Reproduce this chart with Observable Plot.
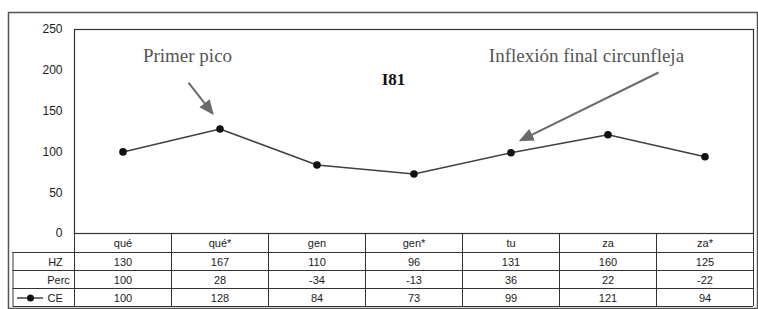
<!DOCTYPE html>
<html>
<head>
<meta charset="utf-8">
<script src="https://cdn.jsdelivr.net/npm/d3@7"></script>
<script src="https://cdn.jsdelivr.net/npm/@observablehq/plot@0.6"></script>
<style>
  html, body { margin: 0; padding: 0; background: white; }
</style>
</head>
<body>
<div id="chart"></div>
<script>
// ---- data ----
const categories = ["qué", "qué*", "gen", "gen*", "tu", "za", "za*"];
const hzValues = [130, 167, 110, 96, 131, 160, 125];
const percValues = [100, 28, -34, -13, 36, 22, -22];
const ceValues = [100, 128, 84, 73, 99, 121, 94];
const rowLabels = ["HZ", "Perc", "CE"];
const yTicks = [0, 50, 100, 150, 200, 250];
const chartTitle = "I81";
const annotationLabels = ["Primer pico", "Inflexión final circunfleja"];

// annotation anchors (data space: x = category index, y = value)
const annotationAnchors = [
  {x: 0.665, y: 210.5},
  {x: 4.778, y: 210.0}
];
const arrowAnchors = [
  {x1: 0.675, y1: 185.0, x2: 0.923, y2: 147.1},
  {x1: 5.521, y1: 197.3, x2: 4.098, y2: 114.0}
];
const titleAnchor = {x: 2.789, y: 182.2};

// ---- build ----
const tableRows = [categories, hzValues, percValues, ceValues];
const rowOffsets = [9.5, 28.5, 46.5, 64.5];
const hLineOffsets = [19, 37, 55, 73];
const rowLabelDx = [-19, -16, -19.4];
const serif = "'Liberation Serif', 'Times New Roman', serif";
const sans = "'Liberation Sans', Arial, sans-serif";

function filledArrow(color, context) {
  const ns = "http://www.w3.org/2000/svg";
  const doc = (context && context.document) || document;
  const m = doc.createElementNS(ns, "marker");
  m.setAttribute("viewBox", "0 -7 15 14");
  m.setAttribute("markerWidth", 15);
  m.setAttribute("markerHeight", 14);
  m.setAttribute("refX", 13);
  m.setAttribute("refY", 0);
  m.setAttribute("orient", "auto");
  m.setAttribute("markerUnits", "userSpaceOnUse");
  const p = doc.createElementNS(ns, "path");
  p.setAttribute("d", "M0,-6.5L15,0L0,6.5Z");
  p.setAttribute("fill", color);
  p.setAttribute("stroke", "none");
  m.appendChild(p);
  return m;
}

const tableTextMarks = tableRows.map((row, r) =>
  Plot.text(row, {
    x: (d, i) => i, y: 0, dy: rowOffsets[r],
    text: d => String(d), fontSize: 11, fill: "#1a1a1a"
  })
);
const tableHLines = hLineOffsets.map(off =>
  Plot.ruleY([0], {dy: off, insetLeft: -61.5, stroke: "#333", strokeWidth: 1})
);
const rowLabelMarks = rowLabels.map((lab, r) =>
  Plot.text([lab], {
    frameAnchor: "left", y: 0, dy: rowOffsets[r + 1], dx: rowLabelDx[r],
    textAnchor: "middle", text: d => d, fontSize: 11, fill: "#1a1a1a"
  })
);

const chart = Plot.plot({
  width: 758,
  height: 309,
  marginLeft: 74,
  marginRight: 5,
  marginTop: 29,
  marginBottom: 76,
  style: {fontFamily: sans, fontSize: "12px", color: "#1a1a1a", background: "white"},
  x: {domain: [-0.5, 6.5], axis: null},
  y: {domain: [0, 250], ticks: yTicks, tickSize: 0, tickPadding: 12, label: null},
  marks: [
    // outer border
    Plot.frame({insetLeft: -66, insetTop: -17, insetRight: -4, insetBottom: -75, stroke: "#555", strokeWidth: 1.5}),
    // plot area frame
    Plot.frame({stroke: "#333", strokeWidth: 1.2}),
    // table grid
    Plot.ruleX(d3.range(-0.5, 7, 1), {y1: 0, y2: 0, insetBottom: -73, stroke: "#333", strokeWidth: 1}),
    Plot.ruleX([-0.5], {y1: 0, y2: 0, dx: -61.5, insetTop: 19, insetBottom: -73, stroke: "#333", strokeWidth: 1}),
    ...tableHLines,
    ...tableTextMarks,
    ...rowLabelMarks,
    // legend key for CE
    Plot.ruleY([0], {dy: 64.5, insetLeft: -57, insetRight: 710, stroke: "#222", strokeWidth: 1.3}),
    Plot.dot([0], {frameAnchor: "left", y: 0, dx: -44, dy: 64.5, r: 3.5, fill: "#111", stroke: "none"}),
    // series
    Plot.line(ceValues, {x: (d, i) => i, y: d => d, stroke: "#404040", strokeWidth: 1.5}),
    Plot.dot(ceValues, {x: (d, i) => i, y: d => d, r: 3.8, fill: "#111", stroke: "none"}),
    // title
    Plot.text([chartTitle], {x: titleAnchor.x, y: titleAnchor.y, text: d => d, lineAnchor: "bottom", fontFamily: serif, fontWeight: "bold", fontSize: 17, fill: "#111"}),
    // annotations
    Plot.text(annotationLabels, {x: (d, i) => annotationAnchors[i].x, y: (d, i) => annotationAnchors[i].y, text: d => d, lineAnchor: "bottom", fontFamily: serif, fontSize: 19, fill: "#555"}),
    Plot.link(arrowAnchors, {x1: "x1", y1: "y1", x2: "x2", y2: "y2", stroke: "#6a6a6a", strokeWidth: 2, markerEnd: filledArrow})
  ]
});
document.getElementById("chart").appendChild(chart);
</script>
</body>
</html>
